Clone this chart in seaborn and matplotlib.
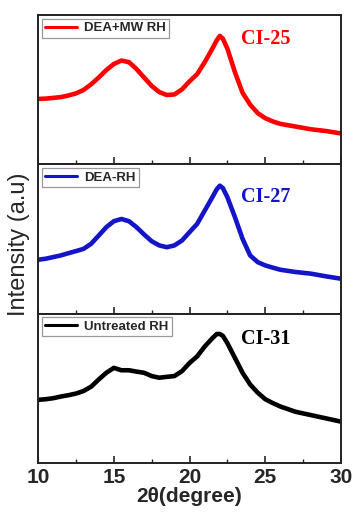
import pandas as pd
import matplotlib
matplotlib.use("Agg")
import matplotlib.pyplot as plt
import seaborn as sns
from matplotlib.ticker import MultipleLocator

# 2theta positions (degree)
two_theta = [10, 10.5, 11, 11.5, 12, 12.5, 13, 13.5, 14, 14.5, 15, 15.5, 16, 16.5, 17, 17.5,
             18, 18.5, 19, 19.5, 20, 20.5, 21, 21.5, 21.8, 22, 22.2, 22.5, 23, 23.5, 24, 24.5,
             25, 25.5, 26, 27, 28, 29, 30]

# intensities (a.u., relative within each panel)
dea_mw_rh = [43.7, 43.9, 44.4, 44.9, 46.0, 47.4, 49.7, 53.5, 58.0, 63.0, 67.1, 69.4, 68.3, 63.7,
             58.0, 52.4, 48.3, 46.3, 46.7, 50.1, 55.5, 60.3, 68.3, 77.3, 83.0, 85.9, 84.0, 77.3,
             61.5, 47.8, 39.9, 34.2, 30.8, 28.6, 27.0, 25.2, 23.4, 22.2, 20.6]
dea_rh = [36.0, 36.7, 37.8, 38.9, 40.4, 41.8, 43.3, 46.7, 52.2, 57.8, 61.8, 63.3, 61.8, 57.8,
          52.9, 48.4, 45.6, 44.4, 45.6, 48.9, 54.5, 60.0, 68.9, 77.8, 83.3, 85.6, 84.0, 77.8,
          64.4, 50.0, 38.9, 34.4, 32.2, 30.7, 29.3, 27.8, 26.7, 24.9, 23.3]
untreated_rh = [42.2, 42.6, 43.3, 44.4, 45.3, 46.4, 48.1, 51.0, 55.8, 60.3, 63.6, 62.0, 62.0,
                61.1, 60.3, 58.1, 57.0, 57.6, 58.1, 61.4, 66.9, 71.3, 77.9, 83.4, 86.3, 86.3,
                85.0, 80.1, 70.2, 60.3, 52.5, 47.0, 42.6, 40.0, 37.7, 34.2, 32.0, 29.8, 27.6]

samples = ["DEA+MW RH", "DEA-RH", "Untreated RH"]
labels = ["CI-25", "CI-27", "CI-31"]
colors = ["#ff0000", "#1414c8", "#000000"]
series = [dea_mw_rh, dea_rh, untreated_rh]

sns.set_style("ticks")
plt.rcParams["font.family"] = ["Liberation Sans", "DejaVu Sans"]

fig, axes = plt.subplots(3, 1, figsize=(3.53, 5.12), dpi=100, sharex=True)
fig.subplots_adjust(left=0.108, right=0.966, top=0.971, bottom=0.096, hspace=0)

label_y = [0.84, 0.78, 0.83]

for ax, name, lab, col, vals, ly in zip(axes, samples, labels, colors, series, label_y):
    df = pd.DataFrame({"two_theta": two_theta, "intensity": vals})
    sns.lineplot(data=df, x="two_theta", y="intensity", color=col, lw=3.3, ax=ax, label=name)
    ax.set_xlim(10, 30)
    ax.set_ylim(0, 100)
    ax.set_yticks([])
    ax.set_ylabel("")
    ax.set_xlabel("")
    ax.xaxis.set_major_locator(MultipleLocator(5))
    ax.xaxis.set_minor_locator(MultipleLocator(2.5))
    ax.tick_params(axis="x", which="major", direction="in", length=5, width=1.2)
    ax.tick_params(axis="x", which="minor", direction="in", length=3, width=1.0)
    for sp in ax.spines.values():
        sp.set_visible(True)
        sp.set_linewidth(1.4)
        sp.set_color("#222222")
    leg = ax.legend(loc="upper left", fancybox=False, edgecolor="#999999", framealpha=1,
                    handlelength=2.4, handletextpad=0.55, borderpad=0.25,
                    borderaxespad=0.3, prop={"size": 9.5, "weight": "bold"})
    leg.get_frame().set_linewidth(0.9)
    for h in leg.get_lines():
        h.set_linewidth(2.2)
    ax.text(0.67, ly, lab, transform=ax.transAxes, color=col, fontsize=14.5,
            fontweight="bold", family="Liberation Serif", va="center", ha="left")

axes[-1].tick_params(axis="x", which="major", labelsize=15, pad=4)
for t in axes[-1].get_xticklabels():
    t.set_fontweight("bold")
axes[-1].set_xlabel("2θ(degree)", fontsize=15, fontweight="bold", labelpad=0)
fig.text(0.054, 0.523, "Intensity (a.u)", rotation=90, fontsize=17,
         va="center", ha="center")

fig.savefig("out.png", dpi=100)
